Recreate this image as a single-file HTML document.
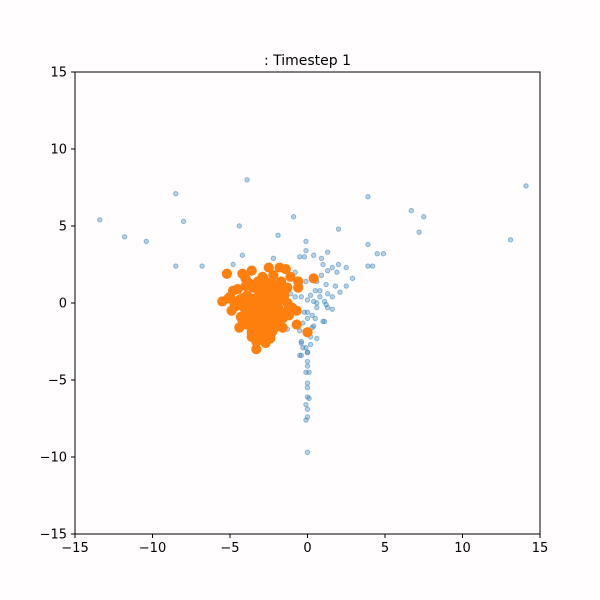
<!DOCTYPE html>
<html><head><meta charset="utf-8"><style>
html,body{margin:0;padding:0;background:#fffdfe;}
svg{display:block;font-family:"DejaVu Sans","Liberation Sans",sans-serif;}
</style></head><body>
<svg id="chart" width="600" height="600" viewBox="0 0 600 600">
<rect x="0" y="0" width="600" height="600" fill="#fffdfe"/>
<text x="307.5" y="65" text-anchor="middle" font-size="14" fill="#000">: Timestep 1</text>
<g id="plot"></g>
<rect x="75" y="72" width="465" height="462" fill="none" stroke="#000" stroke-width="1"/>
<g id="xt"></g>
<g id="yt"></g>
</svg>
<script>
const xTicks=[-15,-10,-5,0,5,10,15];
const yTicks=[-15,-10,-5,0,5,10,15];
const blueX=[-13.4,-11.8,-10.4,-8.5,-8.5,-8.0,-6.8,-3.9,-4.4,-0.9,-1.9,3.9,2.0,6.7,7.5,7.2,14.1,13.1,4.9,4.5,3.9,3.9,4.2,0,-0.1,
-0.1,-0.1,0.4,-0.5,-0.2,1.3,0.9,1.0,1.6,2.0,2.5,1.9,1.3,0.9,2.9,0.6,-0.1,1.2,1.8,2.5,0.5,0.8,1.3,2.1,0.2,-0.4,0.8,1.6,0,0.4,1.1,0.6,1.3,-1.1,-0.8,-4.2,-4.8,-2.2,-1.3,-0.8,
-0.2,0,0.5,-0.3,0.3,1.1,-1.3,-0.5,0.2,-0.4,-0.1,-0.5,0,
0,0.3,0.4,0.6,-0.4,0.2,-0.3,0,-0.4,0,0,-0.1,0.1,0,0,0,0.1,-0.1,0,0,1.2,1.6,1.0,0.6];
const blueY=[5.4,4.3,4.0,7.1,2.4,5.3,2.4,8.0,5.0,5.6,4.4,6.9,4.8,6.0,5.6,4.6,7.6,4.1,3.2,3.2,3.8,2.4,2.4,-9.7,-7.6,
4.0,3.4,3.1,3.0,3.0,3.3,2.9,2.5,2.3,2.5,2.3,2.0,2.1,1.8,1.6,1.4,1.4,1.2,1.1,1.1,0.8,0.8,0.6,0.7,0.5,0.4,0.4,0.4,0.2,0.1,0.1,-0.3,-0.3,0.6,0.4,3.1,2.5,2.9,2.3,2.0,
-0.6,-1.0,-1.0,-1.3,-1.6,-1.2,-1.7,-1.8,-2.2,-2.6,-2.9,-3.4,-3.2,
-0.6,-0.8,-1.5,-2.3,-2.5,-2.7,-2.9,-3.2,-3.4,-3.8,-4.1,-4.5,-4.5,-5.2,-5.5,-6.1,-6.2,-6.6,-6.9,-7.4,-0.1,-0.4,-1.2,0.0];
const orangeX=[-5.2,-4.2,-3.6,-2.5,-1.8,-1.4,-1.1,-0.6,0.4,-0.6,-5.5,-4.9,-4.4,-3.6,-3.3,-3.3,-2.4,-1.6,-0.7,-0.7,-1.0,0,-4.8,-5.0,
-4.5,-4.0,-3.8,-3.5,-3.2,-3.0,-2.8,-2.6,-2.3,-2.0,-1.7,-1.5,-4.2,-3.9,-3.4,-3.1,-2.7,-2.4,-2.1,-1.8,-1.3,-4.6,-4.1,-3.7,-3.3,-2.9,-2.5,-2.2,-1.9,-1.5,-1.2,
-4.3,-3.8,-3.4,-3.0,-2.6,-2.3,-2.0,-1.6,-3.9,-3.5,-3.1,-2.8,-2.5,-2.2,-1.9,-3.6,-3.2,-2.9,-2.6,-2.3,-2.0,-3.0,-2.7,-2.4,-2.8,-3.3,-2.5,-4.0,-1.4,-2.1,-3.7,
-3.0,-2.7,-2.4,-2.1,-3.3,-3.6,-2.9,-2.6,-2.3,-3.1,-2.8,-2.5,-2.2,-3.4,-2.0,-1.8,-4.4,-4.7,-5.1,-3.9,-3.2,-2.6,-2.9,-1.7,-1.3,-2.2,-3.5,-2.7,-4.2,-1.9];
const orangeY=[1.9,1.9,2.1,2.3,2.3,2.2,1.7,1.4,1.6,1.0,0.1,-0.5,-1.6,-2.2,-2.5,-3.0,-2.1,-1.6,-1.4,-0.5,-0.3,-1.9,0.8,0.4,
0.9,1.1,1.3,1.0,1.4,1.2,1.5,1.1,1.3,1.0,0.8,0.5,0.3,0.5,0.2,0.6,0.3,0.7,0.4,0.2,0.0,-0.2,-0.3,-0.1,-0.4,-0.2,-0.5,-0.1,-0.3,-0.6,-0.8,
-0.9,-0.7,-1.0,-0.8,-1.1,-0.9,-1.2,-1.0,-1.4,-1.5,-1.3,-1.6,-1.4,-1.7,-1.5,-1.9,-2.0,-1.8,-2.1,-1.9,-0.6,-2.4,-2.6,-2.3,0.0,0.0,0.1,1.6,0.9,-0.2,-0.6,
0.0,0.1,-0.1,0.1,-0.6,-0.9,-0.4,-0.7,-0.6,0.9,0.8,0.6,0.5,0.3,-1.2,0.4,0.2,-0.1,0.3,-0.3,-1.6,-1.4,1.7,1.4,1.0,1.8,-1.1,-2.0,-1.1,-0.9];
const NS='http://www.w3.org/2000/svg';
function sx(v){return 75+(v+15)*465/30;}
function sy(v){return 534-(v+15)*462/30;}
const plot=document.getElementById('plot');
blueX.forEach((x,i)=>{
 const c=document.createElementNS(NS,'circle');
 c.setAttribute('cx',sx(x));c.setAttribute('cy',sy(blueY[i]));c.setAttribute('r',2.2);
 c.setAttribute('fill','rgba(31,119,180,0.32)');c.setAttribute('stroke','rgba(31,119,180,0.45)');c.setAttribute('stroke-width','1');
 
 
 plot.appendChild(c);
});
orangeX.forEach((x,i)=>{
 const c=document.createElementNS(NS,'circle');
 c.setAttribute('cx',sx(x));c.setAttribute('cy',sy(orangeY[i]));c.setAttribute('r',5.1);
 c.setAttribute('fill','#ff7f0e');
 
 
 plot.appendChild(c);
});
const xt=document.getElementById('xt'),yt=document.getElementById('yt');
xTicks.forEach(v=>{
 const l=document.createElementNS(NS,'line');
 l.setAttribute('x1',sx(v));l.setAttribute('x2',sx(v));l.setAttribute('y1',534);l.setAttribute('y2',538);l.setAttribute('stroke','#000');
 
 
 xt.appendChild(l);
 const t=document.createElementNS(NS,'text');
 t.setAttribute('x',sx(v));t.setAttribute('y',552);t.setAttribute('text-anchor','middle');t.setAttribute('font-size','13');
 t.textContent=v<0?'\u2212'+(-v):String(v);
 
 
 xt.appendChild(t);
});
yTicks.forEach(v=>{
 const l=document.createElementNS(NS,'line');
 l.setAttribute('x1',71);l.setAttribute('x2',75);l.setAttribute('y1',sy(v));l.setAttribute('y2',sy(v));l.setAttribute('stroke','#000');
 
 
 yt.appendChild(l);
 const t=document.createElementNS(NS,'text');
 t.setAttribute('x',67);t.setAttribute('y',sy(v)+4.5);t.setAttribute('text-anchor','end');t.setAttribute('font-size','13');
 t.textContent=v<0?'\u2212'+(-v):String(v);
 
 
 yt.appendChild(t);
});
</script>
</body></html>
